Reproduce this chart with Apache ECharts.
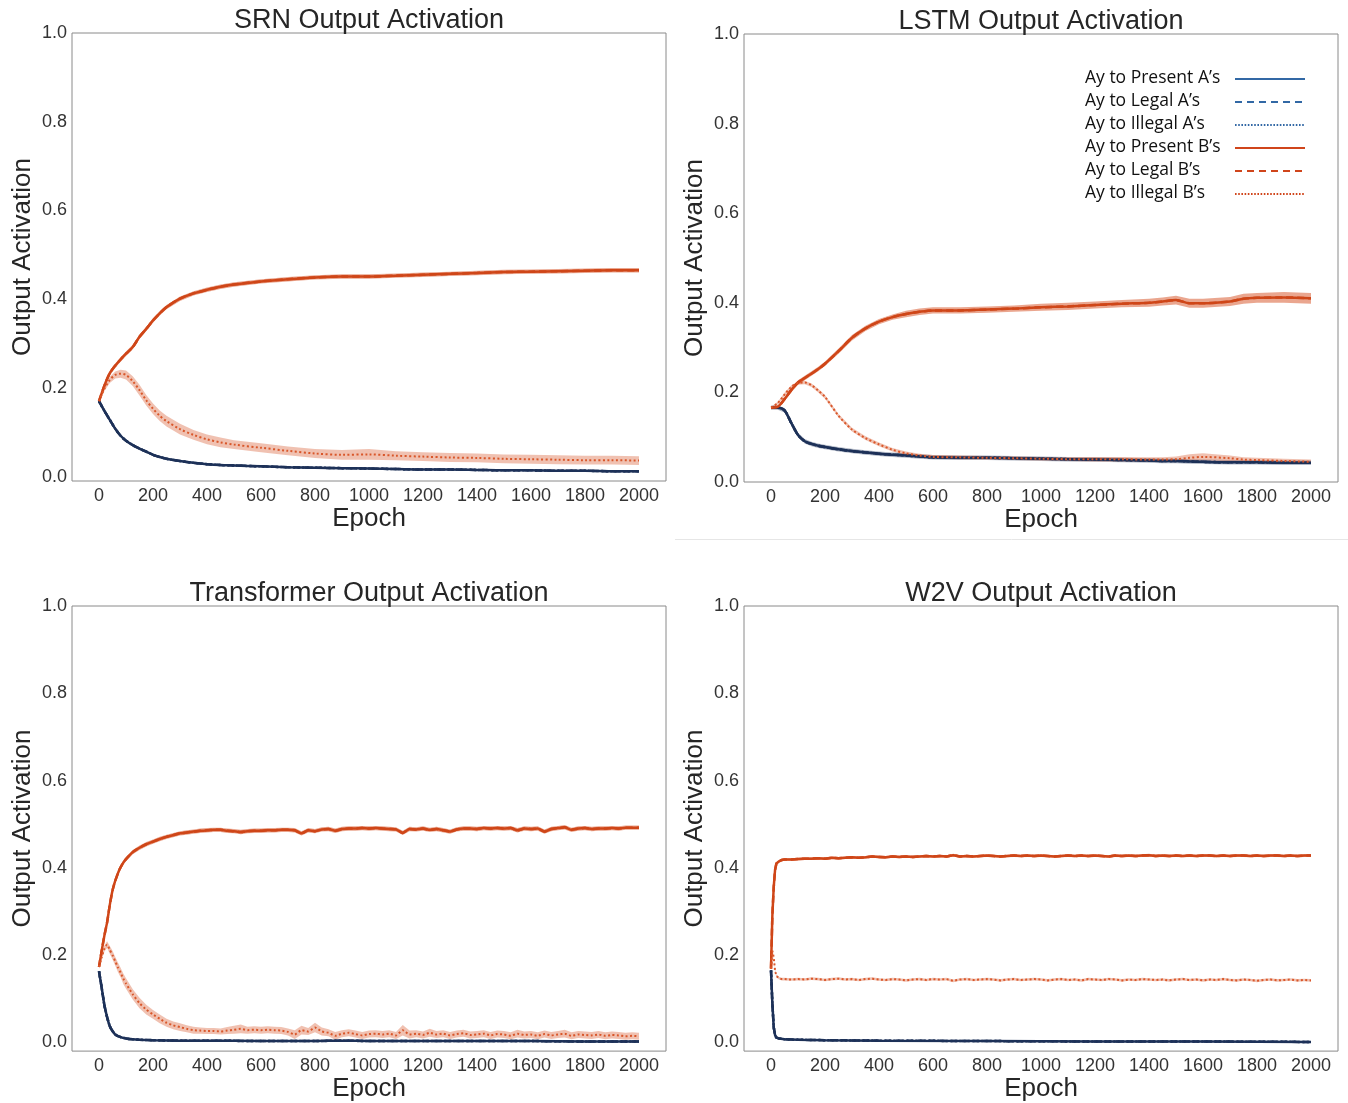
<!DOCTYPE html>
<html><head><meta charset="utf-8">
<script src="https://cdn.jsdelivr.net/npm/echarts@6/dist/echarts.min.js"></script>
<style>html,body{margin:0;padding:0;background:#fff}#c{width:1348px;height:1103px}</style>
</head><body><div id="c"></div><script>
// ---------- labels & ticks ----------
const panelTitles = ['SRN Output Activation', 'LSTM Output Activation', 'Transformer Output Activation', 'W2V Output Activation'];
const legendLabels = ['Ay to Present A\u2019s', 'Ay to Legal A\u2019s', 'Ay to Illegal A\u2019s', 'Ay to Present B\u2019s', 'Ay to Legal B\u2019s', 'Ay to Illegal B\u2019s'];
const xTicks = [0, 200, 400, 600, 800, 1000, 1200, 1400, 1600, 1800, 2000];
const yTicks = [0, 0.2, 0.4, 0.6, 0.8, 1.0];
const yMins = [-0.01, 0, -0.02, -0.02];

// ---------- SRN ----------
const srnEpochs = [0,20,40,60,80,100,125,150,175,200,225,250,300,350,400,450,500,600,700,800,900,1000,1100,1200,1300,1400,1500,1600,1700,1800,1900,2000];
const srnPresentB = [0.170,0.205,0.233,0.250,0.264,0.277,0.292,0.315,0.333,0.352,0.368,0.382,0.401,0.413,0.421,0.428,0.433,0.440,0.445,0.449,0.451,0.451,0.453,0.455,0.457,0.459,0.461,0.462,0.463,0.464,0.465,0.465];
const srnPresentBErr = 0.005;
const srnIllegalB = [0.170,0.198,0.218,0.229,0.232,0.229,0.215,0.195,0.172,0.153,0.137,0.125,0.107,0.094,0.084,0.077,0.072,0.065,0.058,0.052,0.049,0.050,0.047,0.045,0.043,0.042,0.040,0.039,0.038,0.037,0.037,0.036];
const srnIllegalBErr = [0.003,0.005,0.007,0.008,0.009,0.010,0.011,0.012,0.012,0.012,0.012,0.012,0.012,0.011,0.011,0.011,0.010,0.010,0.010,0.010,0.011,0.012,0.010,0.010,0.010,0.010,0.010,0.010,0.010,0.010,0.010,0.010];
const srnA = [0.170,0.148,0.128,0.108,0.092,0.081,0.071,0.063,0.056,0.049,0.044,0.040,0.035,0.031,0.028,0.026,0.025,0.023,0.021,0.020,0.019,0.018,0.017,0.016,0.016,0.015,0.014,0.014,0.013,0.013,0.012,0.012];
const srnAErr = 0.002;

// ---------- LSTM ----------
const lstmEpochs = [0,25,50,75,100,125,150,175,200,250,300,350,400,450,500,550,600,700,800,900,1000,1100,1200,1300,1400,1450,1500,1550,1600,1700,1750,1800,1900,2000];
const lstmPresentB = [0.166,0.168,0.185,0.205,0.222,0.232,0.242,0.252,0.264,0.292,0.322,0.343,0.358,0.368,0.375,0.380,0.383,0.383,0.385,0.387,0.390,0.392,0.395,0.398,0.400,0.403,0.406,0.399,0.399,0.403,0.409,0.411,0.412,0.410];
const lstmPresentBErr = [0.002,0.003,0.004,0.005,0.005,0.005,0.005,0.005,0.005,0.006,0.006,0.006,0.006,0.006,0.007,0.007,0.007,0.007,0.007,0.007,0.008,0.008,0.008,0.008,0.009,0.009,0.010,0.010,0.010,0.010,0.011,0.011,0.012,0.012];
const lstmIllegalB = [0.166,0.176,0.195,0.212,0.221,0.222,0.216,0.204,0.190,0.148,0.117,0.098,0.084,0.072,0.064,0.059,0.056,0.055,0.054,0.053,0.052,0.051,0.051,0.051,0.050,0.050,0.051,0.054,0.056,0.053,0.050,0.049,0.047,0.045];
const lstmIllegalBErr = [0.002,0.003,0.004,0.004,0.004,0.004,0.004,0.004,0.004,0.004,0.004,0.004,0.004,0.004,0.004,0.004,0.004,0.004,0.004,0.004,0.004,0.004,0.005,0.005,0.005,0.005,0.006,0.008,0.008,0.006,0.005,0.005,0.005,0.005];
const lstmA = [0.166,0.166,0.160,0.132,0.105,0.091,0.085,0.081,0.078,0.073,0.069,0.066,0.063,0.061,0.059,0.057,0.055,0.054,0.054,0.053,0.052,0.051,0.050,0.049,0.048,0.047,0.047,0.046,0.045,0.044,0.044,0.044,0.043,0.043];
const lstmAErr = 0.005;

// ---------- Transformer ----------
const trPresentBEpochs = [0,10,20,30,40,50,60,75,90,100,125,150,175,200,225,250,275];
const trPresentBEarly = [0.173,0.210,0.245,0.275,0.315,0.348,0.370,0.395,0.412,0.420,0.436,0.446,0.454,0.460,0.466,0.471,0.475];
const trPresentBLate = [0.479,0.481,0.483,0.485,0.486,0.487,0.487,0.485, 0.484,0.482,0.484,0.485,0.485,0.486,0.486,0.487, 0.487,0.486,0.479,0.486,0.484,0.488,0.489,0.485, 0.489,0.490,0.490,0.491,0.490,0.491,0.490,0.489, 0.488,0.480,0.489,0.488,0.490,0.487,0.489,0.486, 0.483,0.488,0.490,0.490,0.489,0.491,0.490,0.491, 0.490,0.491,0.486,0.490,0.489,0.490,0.483,0.489, 0.491,0.493,0.487,0.490,0.491,0.489,0.490,0.490, 0.491,0.490,0.492,0.492,0.492];
const trPresentBErr = 0.005;
const trIllegalBEpochs = [0,10,20,30,40,50,60,70,80,90,100,125,150,175,200,225,250,275];
const trIllegalBEarly = [0.173,0.195,0.215,0.224,0.212,0.200,0.186,0.172,0.160,0.146,0.135,0.110,0.090,0.075,0.064,0.054,0.045,0.039];
const trIllegalBEarlyErr = [0.003,0.005,0.007,0.008,0.009,0.010,0.010,0.011,0.011,0.012,0.012,0.012,0.012,0.011,0.010,0.010,0.009,0.009];
const trIllegalBLate = [0.035,0.031,0.028,0.027,0.026,0.026,0.025,0.027, 0.029,0.031,0.028,0.029,0.028,0.029,0.028,0.027, 0.024,0.018,0.028,0.025,0.034,0.025,0.022,0.015, 0.020,0.022,0.019,0.016,0.019,0.020,0.018,0.020, 0.016,0.028,0.018,0.020,0.017,0.022,0.018,0.020, 0.016,0.019,0.021,0.017,0.018,0.020,0.016,0.019, 0.018,0.015,0.020,0.017,0.018,0.015,0.019,0.016, 0.018,0.020,0.015,0.018,0.017,0.016,0.018,0.015, 0.017,0.016,0.014,0.015,0.014];
const trIllegalBLateErr = [0.009,0.008,0.008,0.007,0.007,0.007,0.007,0.008, 0.009,0.010,0.008,0.008,0.008,0.008,0.008,0.008, 0.008,0.010,0.010,0.008,0.011,0.009,0.008,0.009, 0.008,0.008,0.008,0.008,0.008,0.008,0.008,0.008, 0.008,0.012,0.009,0.008,0.008,0.009,0.008,0.008, 0.008,0.008,0.008,0.008,0.008,0.008,0.008,0.008, 0.008,0.008,0.009,0.008,0.008,0.008,0.008,0.008, 0.008,0.009,0.008,0.008,0.008,0.008,0.008,0.008, 0.008,0.008,0.008,0.008,0.008];
const trAEpochs = [0,10,20,30,40,50,60,80,100,125,150,200,300,400,600,800,900,1000,1200,1400,1600,1800,2000];
const trA = [0.163,0.125,0.085,0.058,0.037,0.026,0.018,0.012,0.009,0.007,0.006,0.005,0.004,0.004,0.003,0.003,0.004,0.003,0.003,0.003,0.003,0.002,0.002];
const trAErr = 0.002;

// ---------- W2V ----------
const w2vEarlyEpochs = [0,5,10,15,20,30,40,50,75];
const w2vPresentBEarly = [0.169,0.290,0.355,0.395,0.410,0.415,0.418,0.419,0.419];
const w2vPresentBLate = [0.420,0.421,0.421,0.422,0.421,0.423,0.422,0.423, 0.424,0.423,0.424,0.426,0.425,0.424,0.426,0.425, 0.426,0.425,0.426,0.427,0.426,0.427,0.426,0.429, 0.426,0.427,0.426,0.427,0.428,0.427,0.426,0.427, 0.428,0.427,0.428,0.427,0.428,0.427,0.426,0.427, 0.428,0.427,0.428,0.427,0.428,0.427,0.426,0.428, 0.427,0.428,0.427,0.428,0.429,0.427,0.428,0.427, 0.428,0.427,0.428,0.427,0.428,0.428,0.427,0.428, 0.427,0.428,0.428,0.427,0.428,0.427,0.428,0.428, 0.427,0.428,0.427,0.428,0.428];
const w2vIllegalBEarly = [0.169,0.210,0.195,0.165,0.152,0.147,0.145,0.145,0.144];
const w2vIllegalBLate = [0.145,0.144,0.146,0.145,0.143,0.145,0.146,0.144, 0.145,0.143,0.145,0.146,0.144,0.143,0.145,0.144, 0.142,0.144,0.145,0.143,0.145,0.144,0.145,0.141, 0.144,0.145,0.143,0.144,0.145,0.144,0.142,0.144, 0.145,0.143,0.144,0.145,0.144,0.142,0.144,0.145, 0.143,0.144,0.142,0.145,0.144,0.143,0.145,0.144, 0.142,0.144,0.143,0.145,0.144,0.143,0.144,0.142, 0.144,0.145,0.143,0.144,0.142,0.144,0.143,0.145, 0.143,0.142,0.144,0.143,0.141,0.143,0.144,0.142, 0.143,0.144,0.142,0.143,0.142];
const w2vAEpochs = [0,5,10,15,20,30,50,100,200,400,800,1200,1600,2000];
const w2vA = [0.165,0.090,0.035,0.017,0.011,0.009,0.007,0.006,0.005,0.004,0.003,0.002,0.002,0.001];
const w2vBandErr = 0.003;
const w2vAErr = 0.001;

// ---------- helpers ----------
function grid25(start, n) { const a = []; for (let i = 0; i < n; i++) a.push(start + 25 * i); return a; }
const FONT = '"Liberation Sans", Arial, sans-serif';
const NAVY = '#1d3158', ORANGE = '#cf4618', DOT = '#d9572a';
const BAND_PB = 'rgba(214,84,40,0.52)', BAND_IB = 'rgba(214,84,40,0.36)', BAND_A = 'rgba(29,49,88,0.35)';
const LEG_BLUE = '#3268a5', LEG_ORANGE = '#d0451b';

const series = [];
function errAt(err, i) { return Array.isArray(err) ? err[i] : err; }
// confidence band drawn as one polygon, mapped through the axes with api.coord
function addBand(idx, ep, vals, err, color) {
  series.push({
    type: 'custom', xAxisIndex: idx, yAxisIndex: idx, silent: true, z: 1, clip: true,
    data: [[ep[0], vals[0]]],
    renderItem: function (params, api) {
      const upper = ep.map((e, i) => api.coord([e, vals[i] + errAt(err, i)]));
      const lower = ep.map((e, i) => api.coord([e, vals[i] - errAt(err, i)])).reverse();
      return { type: 'polygon', shape: { points: upper.concat(lower) }, style: { fill: color, stroke: null } };
    }
  });
}
function addLine(idx, ep, vals, color, type, width, smooth, z) {
  series.push({ type: 'line', xAxisIndex: idx, yAxisIndex: idx, symbol: 'none', silent: true, smooth: smooth, z: z,
    lineStyle: { color: color, type: type, width: width, cap: 'butt' },
    data: ep.map((e, i) => [e, vals[i]]) });
}
const DASH = [7, 4], DOTS = [2, 2.4];
function addPanel(idx, d) {
  addBand(idx, d.aEp, d.a, d.aErr, BAND_A);
  addBand(idx, d.ibEp, d.ib, d.ibErr, BAND_IB);
  addBand(idx, d.pbEp, d.pb, d.pbErr, BAND_PB);
  addLine(idx, d.aEp, d.a, NAVY, 'solid', 2.5, d.smooth, 3);
  addLine(idx, d.aEp, d.a, NAVY, DASH, 2.5, d.smooth, 3);
  addLine(idx, d.aEp, d.a, NAVY, DOTS, 2.5, d.smooth, 3);
  addLine(idx, d.pbEp, d.pb, ORANGE, 'solid', 2.5, d.smooth, 4);
  addLine(idx, d.pbEp, d.pb, ORANGE, DASH, 2.5, d.smooth, 4);
  addLine(idx, d.ibEp, d.ib, DOT, DOTS, 2, d.smooth, 5);
}

addPanel(0, { smooth: 0.3, aEp: srnEpochs, a: srnA, aErr: srnAErr, ibEp: srnEpochs, ib: srnIllegalB, ibErr: srnIllegalBErr, pbEp: srnEpochs, pb: srnPresentB, pbErr: srnPresentBErr });
addPanel(1, { smooth: 0.3, aEp: lstmEpochs, a: lstmA, aErr: lstmAErr, ibEp: lstmEpochs, ib: lstmIllegalB, ibErr: lstmIllegalBErr, pbEp: lstmEpochs, pb: lstmPresentB, pbErr: lstmPresentBErr });
addPanel(2, { smooth: 0.15,
  aEp: trAEpochs, a: trA, aErr: trAErr,
  ibEp: trIllegalBEpochs.concat(grid25(300, trIllegalBLate.length)), ib: trIllegalBEarly.concat(trIllegalBLate), ibErr: trIllegalBEarlyErr.concat(trIllegalBLateErr),
  pbEp: trPresentBEpochs.concat(grid25(300, trPresentBLate.length)), pb: trPresentBEarly.concat(trPresentBLate), pbErr: trPresentBErr });
addPanel(3, { smooth: false,
  aEp: w2vAEpochs, a: w2vA, aErr: w2vAErr,
  ibEp: w2vEarlyEpochs.concat(grid25(100, w2vIllegalBLate.length)), ib: w2vIllegalBEarly.concat(w2vIllegalBLate), ibErr: w2vBandErr,
  pbEp: w2vEarlyEpochs.concat(grid25(100, w2vPresentBLate.length)), pb: w2vPresentBEarly.concat(w2vPresentBLate), pbErr: w2vBandErr });

const grids = [
  { left: 72, top: 33, width: 594, height: 448 },
  { left: 744, top: 34, width: 594, height: 448 },
  { left: 72, top: 606, width: 594, height: 446 },
  { left: 744, top: 606, width: 594, height: 447 }
];
const gridOpts = grids.map(g => Object.assign({ show: true, borderColor: '#8a8a8a', borderWidth: 1, backgroundColor: 'transparent', containLabel: false }, g));
const xAxes = grids.map((g, i) => ({
  gridIndex: i, type: 'value', min: -100, max: 2100,
  axisLine: { show: false }, axisTick: { show: false }, splitLine: { show: false },
  axisLabel: { customValues: xTicks, formatter: v => String(v), fontSize: 18, color: '#333', margin: 6, fontFamily: FONT },
  name: 'Epoch', nameLocation: 'middle', nameGap: 24,
  nameTextStyle: { fontSize: 26, color: '#262626', fontFamily: FONT }
}));
const yAxes = grids.map((g, i) => ({
  gridIndex: i, type: 'value', min: yMins[i], max: 1,
  axisLine: { show: false }, axisTick: { show: false }, splitLine: { show: false },
  axisLabel: { customValues: yTicks, formatter: v => v.toFixed(1), fontSize: 18, color: '#333', margin: 5, fontFamily: FONT },
  name: 'Output Activation', nameLocation: 'middle', nameGap: 36,
  nameTextStyle: { fontSize: 26, color: '#262626', fontFamily: FONT }
}));

const graphics = [];
grids.forEach((g, i) => {
  graphics.push({ type: 'text', x: g.left + g.width / 2, y: g.top - 12, z: 10,
    style: { text: panelTitles[i], font: '27px ' + FONT, fill: '#262626', align: 'center', verticalAlign: 'middle', textAlign: 'center', textVerticalAlign: 'middle' } });
});
const legendStyles = [
  { c: LEG_BLUE, d: null }, { c: LEG_BLUE, d: [7, 5] }, { c: LEG_BLUE, d: [1.6, 1.6] },
  { c: LEG_ORANGE, d: null }, { c: LEG_ORANGE, d: [7, 5] }, { c: LEG_ORANGE, d: [1.6, 1.6] }
];
legendLabels.forEach((t, i) => {
  const y = 78 + 23 * i;
  graphics.push({ type: 'text', x: 1085, y: y, z: 10,
    style: { text: t, font: '17.5px "Open Sans", sans-serif', fill: '#111', align: 'left', verticalAlign: 'middle', textAlign: 'left', textVerticalAlign: 'middle' } });
  graphics.push({ type: 'line', z: 10, shape: { x1: 1235, y1: y + 1, x2: 1305, y2: y + 1 },
    style: { stroke: legendStyles[i].c, lineWidth: 2, lineDash: legendStyles[i].d, lineCap: 'butt' } });
});
graphics.push({ type: 'line', z: 10, shape: { x1: 675, y1: 539.5, x2: 1348, y2: 539.5 }, style: { stroke: '#e6e6e6', lineWidth: 1 } });

const chart = echarts.init(document.getElementById('c'), null, { renderer: 'canvas' });
chart.setOption({
  animation: false,
  backgroundColor: '#fff',
  grid: gridOpts,
  xAxis: xAxes,
  yAxis: yAxes,
  series: series,
  graphic: graphics
});
</script></body></html>
